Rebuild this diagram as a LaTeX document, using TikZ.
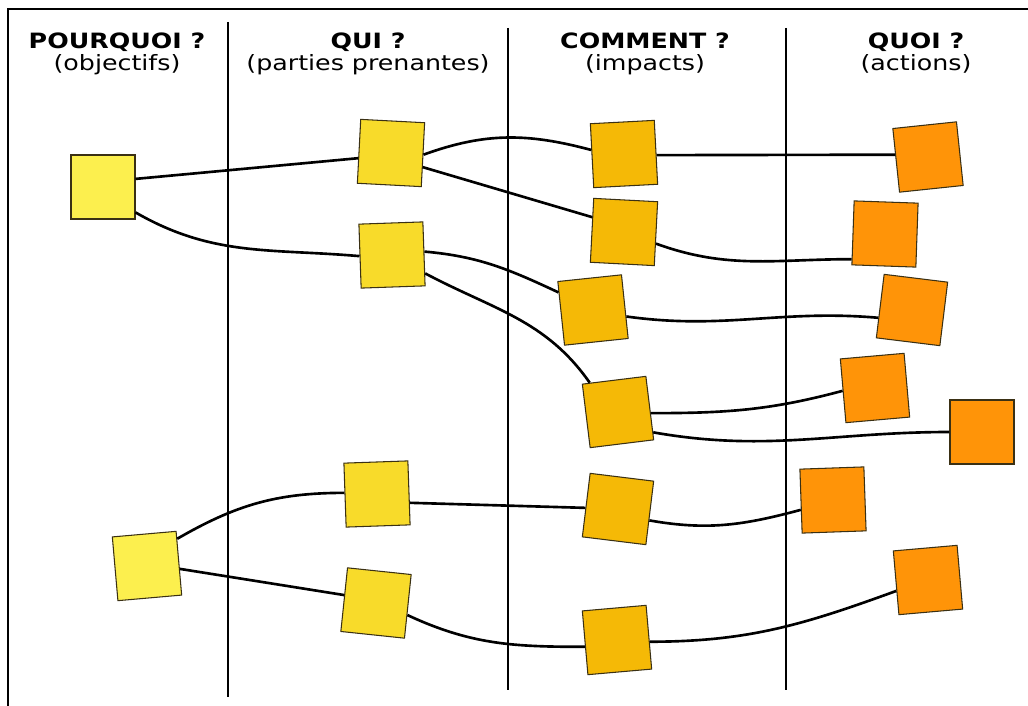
\documentclass[tikz,border=0pt]{standalone}
\usepackage{fontspec}
\newfontfamily\headfont[FakeStretch=1.2]{DejaVu Sans}
\usepackage{tikz}
\usetikzlibrary{shapes}

\definecolor{whycol}{HTML}{FCEF4E}
\definecolor{whocol}{HTML}{F8DB2A}
\definecolor{howcol}{HTML}{F5B906}
\definecolor{whatcol}{HTML}{FF9408}
\definecolor{edgecol}{HTML}{3A3014}

\begin{document}
\begin{tikzpicture}[x=0.02cm,y=0.02cm,
                    every edge/.style={draw,line width=1.5pt},
                    sticky/.style={draw=edgecol,line width=0.6pt,minimum size=1.28cm,inner sep=0pt},
                    why/.style={sticky,fill=whycol},
                    who/.style={sticky,fill=whocol},
                    how/.style={sticky,fill=howcol},
                    what/.style={sticky,fill=whatcol},
                    head/.style={align=center,anchor=north,inner sep=0pt,
                                 font=\headfont\fontsize{12}{12}\selectfont},
                    colsep/.style={line width=1.1pt}]

  \useasboundingbox (0,0) rectangle (1028,-706);

  % frame and columns
  \draw[line width=1.7pt] (8,-706) -- (8,-9) -- (1028,-9);
  \draw[colsep] (228,-22) -- (228,-697);
  \draw[colsep] (508,-28) -- (508,-690);
  \draw[colsep] (786,-28) -- (786,-690);

  \node[head] (hwhy)  at (117,-33) {\textbf{POURQUOI ?}\\(objectifs)};
  \node[head] (hwho)  at (368,-33) {\textbf{QUI ?}\\(parties prenantes)};
  \node[head] (hhow)  at (645,-33) {\textbf{COMMENT ?}\\(impacts)};
  \node[head] (hwhat) at (916,-33) {\textbf{QUOI ?}\\(actions)};

  % objectifs
  \node[why]           (P1) at (103,-187) {};
  \node[why,rotate=5]  (P2) at (147,-566) {};

  % parties prenantes
  \node[who,rotate=-3] (Q1) at (391,-153) {};
  \node[who,rotate=2]  (Q2) at (392,-255) {};
  \node[who,rotate=2]  (Q3) at (377,-494) {};
  \node[who,rotate=-6] (Q4) at (376,-603) {};

  % impacts
  \node[how,rotate=3]  (C1) at (624,-154) {};
  \node[how,rotate=-3] (C2) at (624,-232) {};
  \node[how,rotate=6]  (C3) at (593,-310) {};
  \node[how,rotate=7]  (C4) at (618,-412) {};
  \node[how,rotate=-7] (C5) at (618,-509) {};
  \node[how,rotate=5]  (C6) at (617,-640) {};

  % actions
  \node[what,rotate=6]  (A1) at (928,-157) {};
  \node[what,rotate=-2] (A2) at (885,-234) {};
  \node[what,rotate=-7] (A3) at (912,-310) {};
  \node[what,rotate=5]  (A4) at (875,-388) {};
  \node[what]           (A5) at (982,-432) {};
  \node[what,rotate=2]  (A6) at (833,-500) {};
  \node[what,rotate=5]  (A7) at (928,-580) {};

  \path (P1.14)  edge                   (Q1.192)
        (P1.-38) edge [out=-30,in=175]  (Q2.west)
        (Q1.0)   edge [out=20,in=165]   (C1.170)
        (Q1.-21) edge                   (C2.158)
        (Q2.4)   edge [out=-5,in=155]   (C3.147)
        (Q2.-31) edge [out=-28,in=125]  (C4.127)
        (C1.-5)  edge                   (A1.170)
        (C2.-17) edge [out=-20,in=180]  (A2.219)
        (C3.-17) edge [out=-8,in=175]   (A3.200)
        (C4.-9)  edge [out=0,in=195]    (A4.west)
        (C4.-37) edge [out=-10,in=180]  (A5.west)
        (P2.37)  edge [out=30,in=180]   (Q3.176)
        (P2.-10) edge                   (Q4.172)
        (Q3.-17) edge                   (C5.185)
        (C5.-13) edge [out=-10,in=195]  (A6.195)
        (Q4.-15) edge [out=-25,in=180]  (C6.187)
        (C6.-8)  edge [out=0,in=200]    (A7.194);
\end{tikzpicture}
\end{document}
